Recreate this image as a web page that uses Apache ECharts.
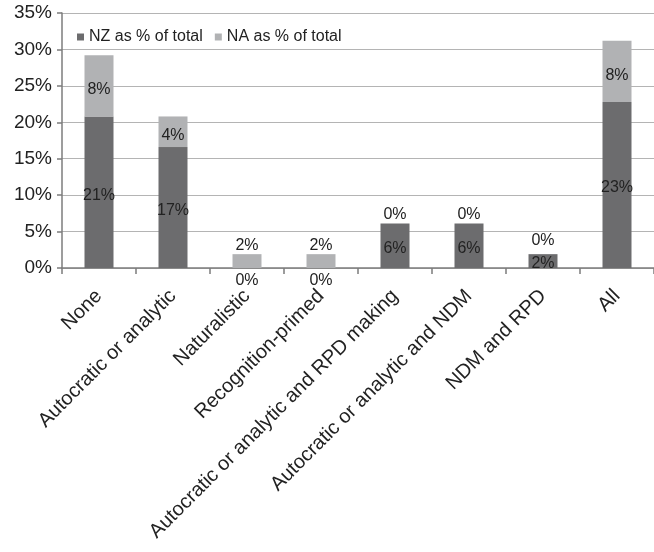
<!DOCTYPE html>
<html>
<head>
<meta charset="utf-8">
<script src="https://cdn.jsdelivr.net/npm/echarts@6/dist/echarts.min.js"></script>
<style>
html,body{margin:0;padding:0;background:#fff;}
#chart{width:654px;height:552px;}
</style>
</head>
<body>
<div id="chart"></div>
<script>
const categories = ['None', 'Autocratic or analytic', 'Naturalistic', 'Recognition-primed',
  'Autocratic or analytic and RPD making', 'Autocratic or analytic and NDM', 'NDM and RPD', 'All'];
const nzValues = [20.8, 16.6, 0, 0, 6.1, 6.1, 1.9, 22.8];
const naValues = [8.4, 4.2, 1.9, 1.9, 0, 0, 0, 8.4];
const seriesNames = ['NZ as % of total', 'NA as % of total'];
const yTicks = { min: 0, max: 35, interval: 5 };

const FONT = "'Liberation Sans', Arial, sans-serif";
const pct = v => Math.round(v) + '%';

const nzData = nzValues.map(v => ({
  value: v,
  label: v === 0
    ? { position: 'bottom', distance: 5, offset: [0, 0] }
    : { position: 'inside', offset: [0, 3] }
}));
const naData = naValues.map((v, i) => {
  const nz = nzValues[i];
  if (v < 3) {
    return { value: v, label: { position: 'top', distance: (nz > 0 && nz < 3) ? 6 : 1, offset: [0, 0] } };
  }
  return { value: v, label: { position: 'inside', offset: [0, 4] } };
});

const chart = echarts.init(document.getElementById('chart'), null, { renderer: 'canvas' });
chart.setOption({
  animation: false,
  backgroundColor: '#ffffff',
  textStyle: { fontFamily: FONT },
  legend: {
    data: seriesNames,
    left: 72,
    top: 24,
    itemWidth: 7,
    itemHeight: 7,
    itemGap: 12,
    icon: 'rect',
    textStyle: { fontFamily: FONT, fontSize: 16, color: '#222', padding: [0, 0, 0, 0] }
  },
  grid: { left: 62, right: -8, top: 13, bottom: 284, containLabel: false },
  xAxis: {
    type: 'category',
    data: categories,
    axisLine: { lineStyle: { color: '#7c7c7c', width: 1.5 } },
    axisTick: { show: true, length: 6, lineStyle: { color: '#7c7c7c', width: 1.5 } },
    axisLabel: {
      rotate: 45,
      interval: 0,
      margin: 25,
      fontFamily: FONT,
      fontSize: 20,
      color: '#222'
    }
  },
  yAxis: {
    type: 'value',
    min: yTicks.min,
    max: yTicks.max,
    interval: yTicks.interval,
    axisLine: { show: true, lineStyle: { color: '#7c7c7c', width: 1.5 } },
    axisTick: { show: true, length: 5, lineStyle: { color: '#7c7c7c', width: 1.5 } },
    splitLine: { show: true, lineStyle: { color: '#b4b4b4', width: 1.2 } },
    axisLabel: {
      formatter: '{value}%',
      margin: 10,
      fontFamily: FONT,
      fontSize: 19,
      color: '#222'
    }
  },
  series: [
    {
      name: seriesNames[0],
      type: 'bar',
      stack: 'total',
      barWidth: 29,
      itemStyle: { color: '#6c6c6e' },
      label: {
        show: true,
        formatter: p => pct(p.value),
        fontFamily: FONT,
        fontSize: 16,
        color: '#222'
      },
      data: nzData
    },
    {
      name: seriesNames[1],
      type: 'bar',
      stack: 'total',
      barWidth: 29,
      itemStyle: { color: '#b1b2b4' },
      label: {
        show: true,
        formatter: p => pct(p.value),
        fontFamily: FONT,
        fontSize: 16,
        color: '#222'
      },
      data: naData
    }
  ]
});
</script>
</body>
</html>
